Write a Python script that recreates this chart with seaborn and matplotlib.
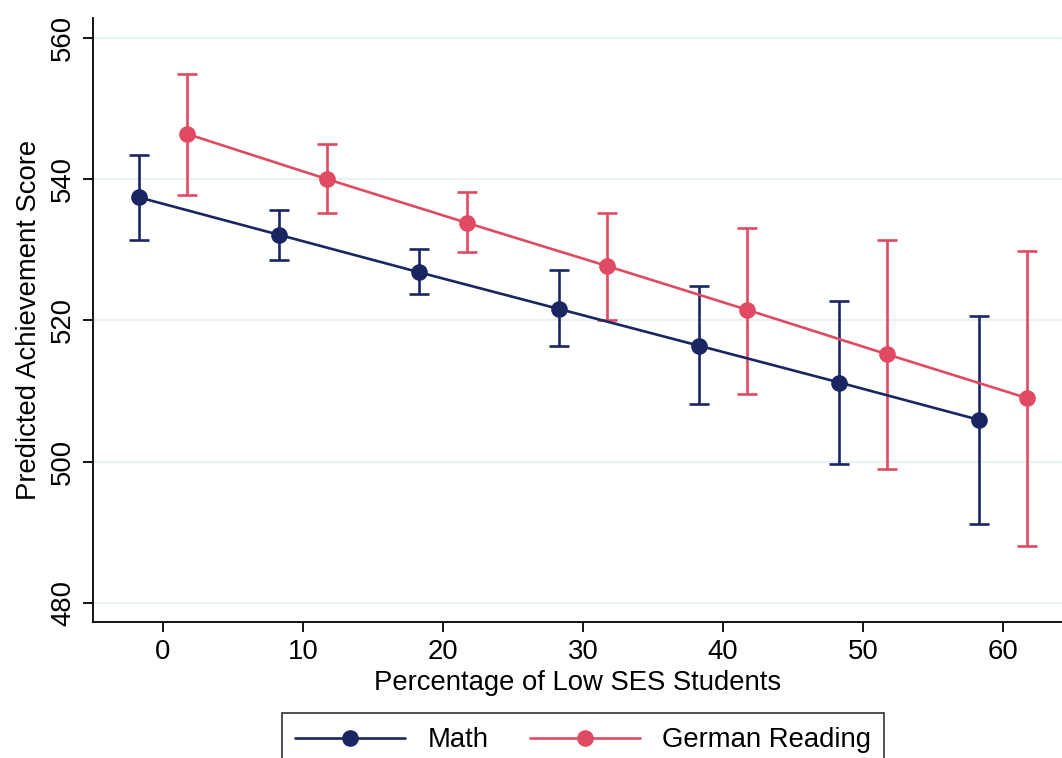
import numpy as np
import pandas as pd
import matplotlib
matplotlib.use("Agg")
import matplotlib.pyplot as plt
import seaborn as sns

# Predicted achievement by share of low-SES students (margins with 95% CIs)
pct_levels = [0, 10, 20, 30, 40, 50, 60]
subjects = ["Math", "German Reading"]

math_pred = [537.4, 532.1, 526.8, 521.6, 516.4, 511.2, 505.9]
math_lo = [531.4, 528.6, 523.7, 516.3, 508.1, 499.7, 491.2]
math_hi = [543.4, 535.6, 530.1, 527.1, 524.8, 522.7, 520.6]

read_pred = [546.4, 540.0, 533.8, 527.7, 521.5, 515.2, 509.0]
read_lo = [537.8, 535.2, 529.7, 520.1, 509.6, 498.9, 488.1]
read_hi = [554.9, 544.9, 538.1, 535.2, 533.1, 531.4, 529.8]

colors = {"Math": "#1a2662", "German Reading": "#e04a62"}
offsets = {"Math": -1.7, "German Reading": 1.7}

sns.set_theme(style="white")
plt.rcParams["font.family"] = ["Liberation Sans", "DejaVu Sans"]
plt.rcParams["text.color"] = "black"
plt.rcParams["axes.labelcolor"] = "black"
plt.rcParams["xtick.color"] = "black"
plt.rcParams["ytick.color"] = "black"

FS = 19.8

rows = []
for subj, pred, lo, hi in [("Math", math_pred, math_lo, math_hi),
                           ("German Reading", read_pred, read_lo, read_hi)]:
    for p, y, l, h in zip(pct_levels, pred, lo, hi):
        rows.append({"pct": p + offsets[subj], "score": y, "lo": l, "hi": h, "subject": subj})
df = pd.DataFrame(rows)

fig = plt.figure(figsize=(10.62, 7.58), dpi=100)
ax = fig.add_axes([93 / 1062, 1 - 622 / 758, (1062 - 93) / 1062, (622 - 18) / 758])

# light horizontal grid
for yv in [480, 500, 520, 540, 560]:
    ax.axhline(yv, color="#e9f1f3", lw=1.6, zorder=0)

for subj in subjects:
    d = df[df["subject"] == subj]
    ax.errorbar(d["pct"], d["score"],
                yerr=[d["score"] - d["lo"], d["hi"] - d["score"]],
                fmt="none", ecolor=colors[subj], elinewidth=1.9,
                capsize=7, capthick=1.9, zorder=2)

sns.lineplot(data=df, x="pct", y="score", hue="subject", hue_order=subjects,
             palette=colors, marker="o", markersize=12, markeredgewidth=0,
             linewidth=1.9, ax=ax, zorder=3, legend=False)

ax.set_xlim(-5, 64.2)
ax.set_ylim(477.3, 562.8)
ax.set_xticks(pct_levels)
ax.set_yticks([480, 500, 520, 540, 560])
ax.tick_params(axis="both", which="major", labelsize=FS, length=7, width=1.3,
               direction="out", color="black", labelcolor="black",
               bottom=True, left=True, pad=5)
for lbl in ax.get_yticklabels():
    lbl.set_rotation(90)
    lbl.set_va("center")

ax.set_xlabel("Percentage of Low SES Students", fontsize=FS, labelpad=4, color="black")
ax.set_ylabel("Predicted Achievement Score", fontsize=FS, labelpad=6, color="black")

for side in ["top", "right"]:
    ax.spines[side].set_visible(False)
for side in ["left", "bottom"]:
    ax.spines[side].set_color("black")
    ax.spines[side].set_linewidth(1.3)

handles = [plt.Line2D([], [], color=colors[s], marker="o", markersize=12,
                      markeredgewidth=0, lw=1.9) for s in subjects]
leg = fig.legend(handles, subjects, loc="lower center", ncol=2,
                 bbox_to_anchor=(583 / 1062, -0.03), fontsize=FS,
                 frameon=True, fancybox=False, edgecolor="black",
                 handlelength=4.0, handletextpad=0.8, columnspacing=1.5,
                 borderpad=0.5)
leg.get_frame().set_linewidth(1.2)
for t in leg.get_texts():
    t.set_color("black")

fig.savefig("out.png", dpi=100)
